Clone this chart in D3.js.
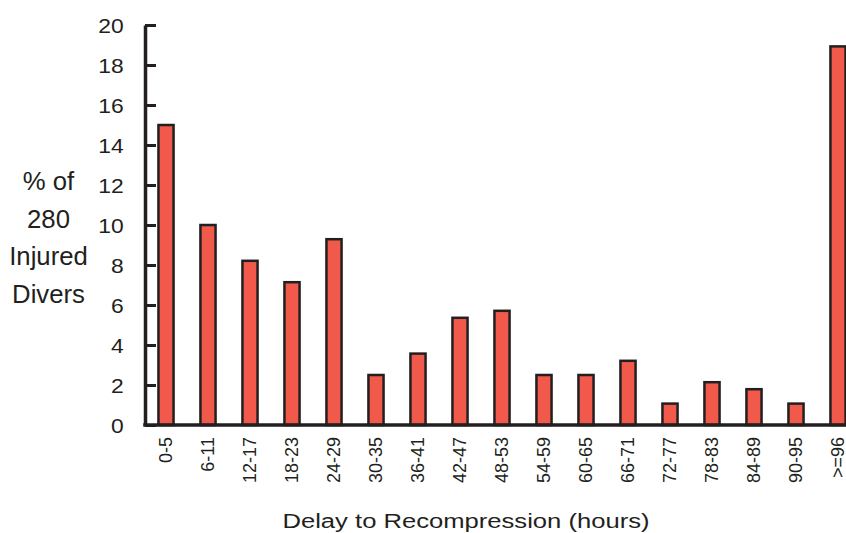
<!DOCTYPE html>
<html>
<head>
<meta charset="utf-8">
<script src="https://cdn.jsdelivr.net/npm/d3@7"></script>
<style>
    body { margin: 0; background: #fff; }
    svg { display: block; font-family: 'Liberation Sans', Arial, sans-serif; }
</style>
</head>
<body>
<svg id="chart" width="846" height="533"></svg>
<script>
// delay bins (hours) and % of 280 injured divers
const categories = ['0-5', '6-11', '12-17', '18-23', '24-29', '30-35', '36-41', '42-47', '48-53',
    '54-59', '60-65', '66-71', '72-77', '78-83', '84-89', '90-95', '>=96'];
const percents = [15.0, 10.0, 8.21, 7.14, 9.29, 2.5, 3.57, 5.36, 5.71, 2.5, 2.5, 3.21, 1.07, 2.14, 1.79, 1.07, 18.93];
const yTicks = [0, 2, 4, 6, 8, 10, 12, 14, 16, 18, 20];
const yTitle = ['% of', '280', 'Injured', 'Divers'];
const xTitle = 'Delay to Recompression (hours)';

const INK = '#231f20';
const BAR = '#f15a4b';

const svg = d3.select('#chart');

const x = d3.scaleBand()
    .domain(categories)
    .range([145, 859])
    .paddingInner(0.64)
    .paddingOuter(0.32);

const y = d3.scaleLinear()
    .domain([0, 20])
    .range([425, 25]);

// bars
svg.append('g')
    .attr('class', 'bars')
    .selectAll('rect')
    .data(percents)
    .enter()
    .append('rect')
    .attr('x', (d, i) => x(categories[i]))
    .attr('y', d => y(d))
    .attr('width', x.bandwidth())
    .attr('height', d => y(0) - y(d))
    .attr('fill', BAR)
    .attr('stroke', INK)
    .attr('stroke-width', 2.5);

// y axis, ticks pointing inward
const yAxis = svg.append('g')
    .attr('class', 'y-axis')
    .attr('transform', 'translate(145,0)')
    .call(d3.axisRight(y).tickValues(yTicks).tickSize(11).tickSizeOuter(0).tickFormat(d3.format('d')));

yAxis.select('.domain')
    .attr('stroke', INK)
    .attr('stroke-width', 3.5);
yAxis.selectAll('.tick line')
    .attr('stroke', INK)
    .attr('stroke-width', 3);
// tick labels in the reference are a little wider than Liberation Sans
yAxis.selectAll('.tick text')
    .attr('x', -19.5)
    .attr('dy', '0.35em')
    .attr('transform', 'scale(1.09,1)')
    .attr('text-anchor', 'end')
    .attr('fill', INK)
    .style('font-size', '21px')
    .style('font-family', "'Liberation Sans', Arial, sans-serif");

// x axis
const xAxis = svg.append('g')
    .attr('class', 'x-axis')
    .attr('transform', 'translate(0,425)')
    .call(d3.axisBottom(x).tickSize(0).tickSizeOuter(0));

xAxis.select('.domain')
    .attr('stroke', INK)
    .attr('stroke-width', 3.5)
    .attr('d', 'M143.25,0H859');
xAxis.selectAll('.tick text')
    .attr('transform', 'rotate(-90)')
    .attr('x', -12)
    .attr('y', 0)
    .attr('dy', '0.35em')
    .attr('text-anchor', 'end')
    .attr('fill', INK)
    .style('font-size', '18px')
    .style('font-family', "'Liberation Sans', Arial, sans-serif");

// y title, four stacked lines
svg.append('g')
    .attr('class', 'y-title')
    .attr('transform', 'translate(48.5,0) scale(1.03,1)')
    .selectAll('text')
    .data(yTitle)
    .enter()
    .append('text')
    .attr('x', 0)
    .attr('y', (d, i) => 190 + i * 37.7)
    .attr('text-anchor', 'middle')
    .attr('fill', INK)
    .style('font-size', '25px')
    .text(d => d);

// x title
svg.append('text')
    .attr('transform', 'translate(466,528) scale(1.22,1)')
    .attr('text-anchor', 'middle')
    .attr('fill', INK)
    .style('font-size', '21px')
    .text(xTitle);
</script>
</body>
</html>
